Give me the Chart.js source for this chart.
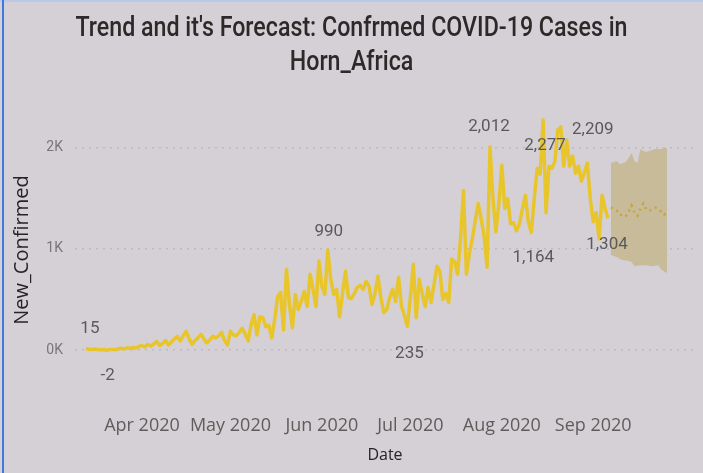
<!DOCTYPE html>
<html>
<head>
<meta charset="utf-8">
<script src="https://cdn.jsdelivr.net/npm/chart.js@4.4.1/dist/chart.umd.min.js"></script>
<style>
  html, body { margin: 0; padding: 0; background: #d4d0d6; }
  #wrap { position: relative; width: 703px; height: 473px; overflow: hidden; }
  #frameLeft { position: absolute; left: 2px; top: 0; width: 2px; height: 473px; background: #3b7be0; }
  #frameTop { position: absolute; left: 0; top: 0; width: 703px; height: 2px; background: #b8c9ec; }
  #title {
    position: absolute; left: 0; top: 10px; width: 703px;
    text-align: center; font-family: Roboto, sans-serif; font-size: 27px; font-weight: 500;
    line-height: 34px; color: #2b2a29;
    transform: scaleX(0.86); transform-origin: center top;
  }
  canvas { position: absolute; left: 0; top: 0; }
</style>
</head>
<body>
<div id="wrap">
  <canvas id="trendChart" width="703" height="473"></canvas>
  <div id="title">Trend and it's Forecast: Confrmed COVID-19 Cases in<br>Horn_Africa</div>
  <div id="frameTop"></div>
  <div id="frameLeft"></div>
</div>
<script>
// First day of the series
const startDate = "2020-03-13";

// Daily new confirmed cases
const confirmed = [
  15, 8, 5, 10, 6, 3, 5, -2, 4, 6,
  3, 12, 18, 10, 22, 15, 25, 20, 35, 45,
  30, 55, 40, 60, 85, 45, 65, 95, 50, 80,
  110, 135, 90, 140, 185, 110, 55, 95, 120, 155,
  110, 70, 100, 135, 120, 140, 175, 95, 50, 185,
  150, 140, 175, 215, 160, 90, 250, 350, 150, 330,
  320, 230, 245, 120, 300, 530, 570, 200, 800, 450,
  220, 550, 400, 480, 580, 430, 750, 600, 430, 880,
  630, 550, 990, 700, 550, 600, 330, 560, 780, 520,
  510, 560, 620, 640, 600, 680, 630, 450, 560, 730,
  520, 370, 400, 520, 600, 480, 720, 430, 340, 235,
  520, 850, 320, 700, 560, 430, 620, 470, 640, 830,
  780, 500, 560, 470, 900, 880, 750, 1100, 1580, 750,
  950, 1100, 1280, 1450, 1300, 1130, 820, 2012, 1500, 1170,
  1450, 1830, 1400, 1500, 1250, 1260, 1180, 1250, 1400, 1530,
  1270, 1164, 1500, 1800, 1740, 2277, 1360, 1820, 1800, 1870,
  2180, 2209, 1820, 2080, 1820, 1920, 1750, 1820, 1670, 1760,
  1850, 1500, 1270, 1360, 1100, 1530, 1400, 1304
];

// Forecast that follows the last actual day
const forecast = [
  1410, 1400, 1380, 1340, 1330, 1320, 1370, 1430, 1360, 1330,
  1400, 1450, 1390, 1380, 1390, 1410, 1400, 1370, 1340, 1360
];
const forecastUpper = [
  1850, 1860, 1870, 1840, 1850, 1860, 1900, 1950, 1870, 1850,
  1990, 1970, 1960, 1970, 1980, 1990, 1990, 1990, 2000, 2000
];
const forecastLower = [
  940, 930, 920, 900, 890, 885, 880, 870, 830, 835,
  840, 840, 840, 835, 830, 835, 840, 800, 780, 760
];

// Axis ticks
const monthTickDates = ["2020-04-01", "2020-05-01", "2020-06-01", "2020-07-01", "2020-08-01", "2020-09-01"];
const monthTickLabels = ["Apr 2020", "May 2020", "Jun 2020", "Jul 2020", "Aug 2020", "Sep 2020"];
const yTickValues = [0, 1000, 2000];
const yTickLabels = ["0K", "1K", "2K"];

// Days that carry a data label
const labelledDays = [0, 7, 82, 109, 137, 151, 155, 161, 177];

// Where each data label sits relative to its point [dx, dy]
const labelOffsets = {
  0: [4, -20], 7: [1, 26], 82: [1, -18], 109: [2, 27], 137: [-1, -20],
  151: [2, 25], 155: [2, 26], 161: [32, 3], 177: [-1, 26]
};

function dayIndex(dateStr) {
  return Math.round((new Date(dateStr) - new Date(startDate)) / 86400000);
}

const actualPoints = confirmed.map((v, i) => ({ x: i, y: v }));
const fcStart = confirmed.length;
const forecastPoints = forecast.map((v, i) => ({ x: fcStart + i, y: v }));
const upperPoints = forecastUpper.map((v, i) => ({ x: fcStart + i, y: v }));
const lowerPoints = forecastLower.map((v, i) => ({ x: fcStart + i, y: v }));

// Draws the value labels next to selected points
const dataLabels = {
  id: "dataLabels",
  afterDatasetsDraw(chart) {
    const meta = chart.getDatasetMeta(0);
    const ctx = chart.ctx;
    ctx.save();
    ctx.font = "17px Roboto";
    ctx.fillStyle = "#5a5a5a";
    ctx.textAlign = "center";
    ctx.textBaseline = "middle";
    labelledDays.forEach((i) => {
      const pt = meta.data[i];
      const off = labelOffsets[i];
      ctx.fillText(confirmed[i].toLocaleString("en-US"), pt.x + off[0], pt.y + off[1]);
    });
    ctx.restore();
  },
};

new Chart(document.getElementById("trendChart"), {
  type: "line",
  data: {
    datasets: [
      {
        label: "New_Confirmed",
        data: actualPoints,
        borderColor: "#e9c52c",
        borderWidth: 3.5,
        borderJoinStyle: "round",
        pointRadius: 0,
        tension: 0,
      },
      {
        label: "Forecast",
        data: forecastPoints,
        borderColor: "#c4a540",
        borderWidth: 2.5,
        borderDash: [2, 4],
        pointRadius: 0,
        tension: 0,
      },
      {
        label: "Upper bound",
        data: upperPoints,
        borderWidth: 0,
        pointRadius: 0,
        backgroundColor: "#c7bb9a",
        fill: "+1",
        tension: 0,
      },
      {
        label: "Lower bound",
        data: lowerPoints,
        borderWidth: 0,
        pointRadius: 0,
        fill: false,
        tension: 0,
      },
    ],
  },
  options: {
    responsive: false,
    animation: false,
    devicePixelRatio: 1,
    layout: { padding: { top: 100, right: 8, left: 0, bottom: 0 } },
    plugins: {
      legend: { display: false },
      tooltip: { enabled: false },
      title: { display: false },
    },
    scales: {
      x: {
        type: "linear",
        min: -3.7,
        max: 206.5,
        grid: { display: false, drawTicks: false },
        border: { display: false },
        afterBuildTicks: (scale) => {
          scale.ticks = monthTickDates.map((d) => ({ value: dayIndex(d) }));
        },
        afterFit: (scale) => {
          scale.height = 73;
        },
        ticks: {
          autoSkip: false,
          maxRotation: 0,
          padding: 15,
          color: "#5f5d5b",
          font: { family: "Open Sans", size: 18 },
          callback: (value, index) => monthTickLabels[index],
        },
        title: {
          display: true,
          text: "Date",
          color: "#252423",
          font: { family: "Open Sans", size: 16 },
          padding: { top: 0, bottom: 8 },
        },
      },
      y: {
        min: -495,
        max: 2475,
        grid: { color: "#bdb9c0", lineWidth: 1.5, drawTicks: false },
        border: { display: false, dash: [2, 5] },
        afterBuildTicks: (scale) => {
          scale.ticks = yTickValues.map((v) => ({ value: v }));
        },
        afterFit: (scale) => {
          scale.width = 75;
        },
        ticks: {
          padding: 12,
          color: "#777777",
          font: { family: "Roboto", size: 14 },
          callback: (value, index) => yTickLabels[index],
        },
        title: {
          display: true,
          text: "New_Confirmed",
          color: "#252423",
          font: { family: "Open Sans", size: 20 },
          padding: { top: 10, bottom: 0 },
        },
      },
    },
  },
  plugins: [dataLabels],
});
</script>
</body>
</html>
